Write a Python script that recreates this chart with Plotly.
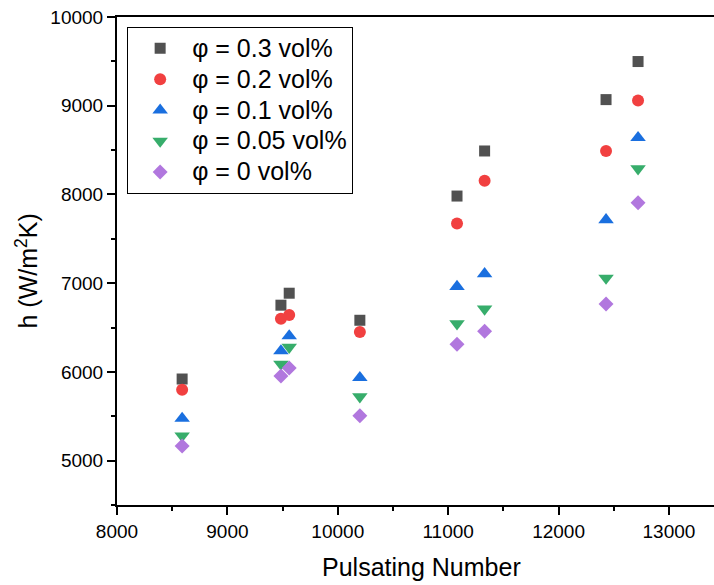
import plotly.graph_objects as go

# Pulsating numbers (x) for each measured point
pulse_x = [8590, 9485, 9560, 10200, 11080, 11330, 12430, 12720]

# Heat transfer coefficient h (W/m^2K) for each concentration
h_03 = [5920, 6752, 6887, 6582, 7982, 8490, 9069, 9498]
h_02 = [5800, 6600, 6642, 6450, 7673, 8155, 8490, 9058]
h_01 = [5475, 6236, 6405, 5935, 6962, 7105, 7714, 8640]
h_005 = [5280, 6089, 6278, 5720, 6544, 6710, 7057, 8290]
h_0 = [5164, 5954, 6043, 5506, 6312, 6458, 6766, 7907]

series_names = ["φ = 0.3 vol%", "φ = 0.2 vol%", "φ = 0.1 vol%", "φ = 0.05 vol%", "φ = 0 vol%"]
series_vals = [h_03, h_02, h_01, h_005, h_0]
colors = ["#515151", "#F14040", "#1A6FDF", "#37AD6B", "#B177DE"]
symbols = ["square", "circle", "triangle-up", "triangle-down", "diamond"]
sizes = [11, 12, 13.5, 13.5, 11.5]

x_ticks = [8000, 9000, 10000, 11000, 12000, 13000]
y_ticks = [5000, 6000, 7000, 8000, 9000, 10000]

x_title = "Pulsating Number"
y_title = "h (W/m<sup>2</sup>K)"

FONT = "Arial, Liberation Sans, sans-serif"

fig = go.Figure()
for name, vals, c, s, sz in zip(series_names, series_vals, colors, symbols, sizes):
    fig.add_trace(go.Scatter(
        x=pulse_x, y=vals, mode="markers",
        name="<span style='font-size:25px'>" + name + "</span>",
        marker=dict(symbol=s, color=c, size=sz, line=dict(width=0)),
    ))

axis_common = dict(
    showgrid=False, zeroline=False,
    showline=True, linecolor="black", linewidth=2,
    ticks="outside", ticklen=8, tickwidth=2, tickcolor="black",
    tickfont=dict(family=FONT, size=19, color="black"),
    minor=dict(ticks="outside", ticklen=4, tickwidth=2, tickcolor="black", showgrid=False),
)

fig.update_layout(
    width=714, height=585,
    margin=dict(l=117, r=0, t=17, b=80),
    paper_bgcolor="white", plot_bgcolor="white",
    font=dict(family=FONT, color="black"),
    xaxis=dict(
        range=[8000, 13408], tickmode="array", tickvals=x_ticks,
        ticktext=[str(v) for v in x_ticks],
        mirror=True,
        **axis_common,
    ),
    yaxis=dict(
        range=[4500, 10000], tickmode="array", tickvals=y_ticks,
        ticktext=[str(v) for v in y_ticks],
        **axis_common,
    ),
    legend=dict(
        x=0.017, y=0.98, xanchor="left", yanchor="top",
        bgcolor="white", bordercolor="black", borderwidth=1,
        font=dict(family=FONT, size=21.5, color="black"),
        itemwidth=54, tracegroupgap=0,
    ),
    showlegend=True,
    annotations=[
        dict(text=x_title, xref="x", x=10760, yref="paper", y=0,
             xanchor="center", yanchor="middle", yshift=-62, showarrow=False,
             font=dict(family=FONT, size=25, color="black")),
        dict(text=y_title, xref="paper", x=0, yref="paper", y=0.4785,
             xanchor="center", yanchor="middle", xshift=-90, textangle=-90, showarrow=False,
             font=dict(family=FONT, size=25, color="black")),
    ],
)
fig.update_xaxes(minor=dict(dtick=500, tick0=8000))
fig.update_yaxes(minor=dict(dtick=500, tick0=4500))

fig.write_html("out.html")
